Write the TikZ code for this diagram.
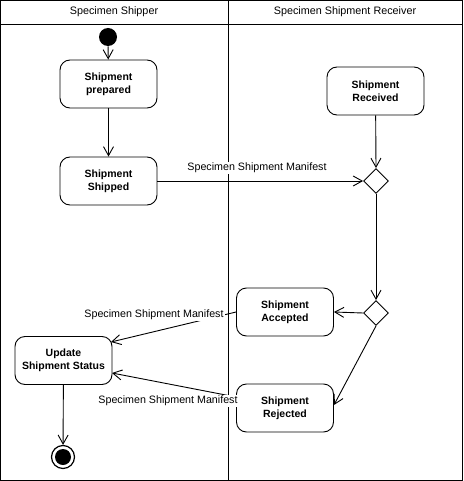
\documentclass[tikz,border=0pt]{standalone}
\usepackage{fontspec}
\setmainfont{Liberation Sans}
\usetikzlibrary{arrows.meta,shapes.geometric}
\begin{document}
\begin{tikzpicture}[x=1pt,y=-1pt,line width=0.9pt,
  state/.style={draw, rounded corners=10pt, minimum width=97pt, minimum height=48pt,
    align=center, inner sep=0pt, font=\fontsize{10.5}{13}\selectfont\bfseries},
  flow/.style={draw, -{Straight Barb[length=9pt,width=10pt]}},
  lbl/.style={font=\fontsize{10.7}{12}\selectfont, inner sep=1pt, fill=white},
  head/.style={font=\fontsize{10.8}{12}\selectfont},
  decision/.style={draw, diamond, minimum width=25pt, minimum height=25pt, inner sep=0pt}]
\useasboundingbox (0,0) rectangle (463,481);
% frame
\draw (0.5,0.5) rectangle (462,480);
\draw (0.5,24) -- (462,24);
\draw (228.5,0.5) -- (228.5,480);
\node[head] (h1) at (114,12) {Specimen Shipper};
\node[head] (h2) at (345,12) {Specimen Shipment Receiver};
% nodes
\node[circle, fill=black, minimum size=18pt, inner sep=0pt] (start) at (108,37) {};
\node[state] (prep) at (108.5,84) {Shipment\\prepared};
\node[state] (ship) at (108.5,181) {Shipment\\Shipped};
\node[state] (recv) at (375.5,91) {Shipment\\Received};
\node[decision] (d1) at (376,181) {};
\node[decision] (d2) at (376,313) {};
\node[state] (acc) at (285,312) {Shipment\\Accepted};
\node[state] (rej) at (285,408) {Shipment\\Rejected};
\node[state] (upd) at (63.5,360.5) {Update\\Shipment Status};
\node[circle, draw, line width=1.2pt, minimum size=23pt, inner sep=0pt] (end) at (63,457) {};
\node[circle, fill=black, minimum size=16pt, inner sep=0pt] at (end.center) {};
% connectors
\draw[flow] (start) -- (prep);
\draw[flow] (prep) -- (ship);
\draw[flow] (ship) -- (d1.west);
\draw[flow] (recv) -- (d1.north);
\draw[flow] (d1.south) -- (d2.north);
\draw[flow] (d2.west) -- (acc.east);
\draw[flow] (d2.south) -- (rej.east |- 0,405);
\coordinate (u1) at (111,342);
\coordinate (u2) at (112,373);
\draw[flow] (acc.west) -- (u1);
\draw[flow] (rej.west |- 0,397) -- (u2);
\draw[flow] (upd) -- (end);
% labels
\node[lbl] (l1) at (257,168) {Specimen Shipment Manifest};
\node[lbl] (l2) at (154,315) {Specimen Shipment Manifest};
\node[lbl] (l3) at (168,401) {Specimen Shipment Manifest};
\end{tikzpicture}
\end{document}
